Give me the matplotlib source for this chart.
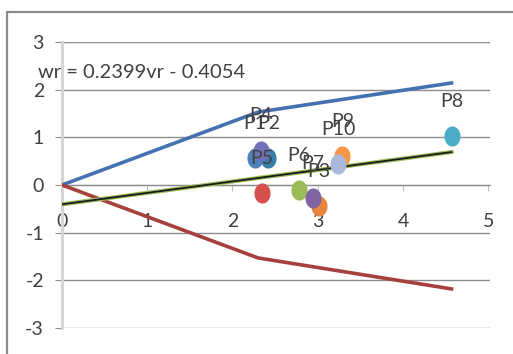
import numpy as np
import matplotlib
matplotlib.use('Agg')
from matplotlib import pyplot as plt
from matplotlib.path import Path
from matplotlib.patches import Rectangle

plt.rcParams['font.family'] = ['Lato', 'DejaVu Sans']
plt.rcParams['axes.unicode_minus'] = False

# boundary curves
bound_x = [0, 2.3, 4.57]
upper_y = [0, 1.53, 2.14]
lower_y = [0, -1.53, -2.18]

# fitted line wr = a*vr + b
slope = 0.2399
intercept = -0.4054
trend_x = np.array([0, 4.57])

# labelled points
names = ['P1', 'P2', 'P3', 'P4', 'P5', 'P6', 'P7', 'P8', 'P9', 'P10']
vr = [2.26, 2.42, 3.01, 2.33, 2.35, 2.78, 2.94, 4.57, 3.29, 3.24]
wr = [0.57, 0.57, -0.45, 0.72, -0.17, -0.10, -0.27, 1.02, 0.60, 0.44]
colors = ['#4F81BD', '#3A7EAA', '#E8843C', '#6F72B8', '#D4504B',
          '#9BBB59', '#8064A2', '#4BACC6', '#F79646', '#AAB8DC']

fig = plt.figure(figsize=(5.13, 3.54), dpi=100)
ax = fig.add_axes([0.1209, 0.0734, 0.834, 0.808])

# chart frame
fig.patches.append(Rectangle((7 / 513, -0.1), 1.1, (354 - 12) / 354 + 0.1,
                             transform=fig.transFigure, fill=False,
                             edgecolor='#8C8C8C', lw=1.6))

ax.plot(bound_x, upper_y, color='#4472B0', lw=2.6, zorder=3)
ax.plot(bound_x, lower_y, color='#A5403D', lw=2.6, zorder=3)
ax.plot(trend_x, slope * trend_x + intercept, color='#9BBB59', lw=3.0, zorder=3)
ax.plot(trend_x, slope * trend_x + intercept, color='#1A1A1A', lw=1.3, zorder=3)

# slightly tall oval markers
t = np.linspace(0, 2 * np.pi, 60)
oval = Path(np.column_stack([np.cos(t), 1.25 * np.sin(t)]))
for i in range(len(names)):
    ax.scatter(vr[i], wr[i], marker=oval, s=210, color=colors[i],
               linewidths=0, zorder=4)
for i in range(len(names)):
    ax.annotate(names[i], (vr[i], wr[i]), xytext=(0, 25),
                textcoords='offset points', ha='center', va='center',
                fontsize=14, color='#404040', zorder=5)

ax.text(0.93, 2.37, 'wr = 0.2399vr - 0.4054', ha='center', va='center',
        fontsize=14.5, color='#404040', zorder=5)

ax.set_xlim(0, 5.02)
ax.set_ylim(-3, 3)
ax.set_xticks([0, 1, 2, 3, 4, 5])
ax.set_yticks([-3, -2, -1, 0, 1, 2, 3])
ax.grid(axis='y', color='#8C8C8C', lw=1.0)
ax.set_axisbelow(True)

for s in ['top', 'right']:
    ax.spines[s].set_visible(False)
ax.spines['bottom'].set_position(('data', 0))
ax.spines['bottom'].set_color('#8C8C8C')
ax.spines['left'].set_color('#D6D6D6')
ax.spines['left'].set_linewidth(2.2)
ax.tick_params(axis='x', direction='out', length=4, color='#BFBFBF',
               pad=16, labelsize=14, labelcolor='#404040')
ax.tick_params(axis='y', direction='out', length=5, color='#8C8C8C',
               pad=8, labelsize=14, labelcolor='#404040')

plt.savefig('out.png', dpi=100)
plt.close()
